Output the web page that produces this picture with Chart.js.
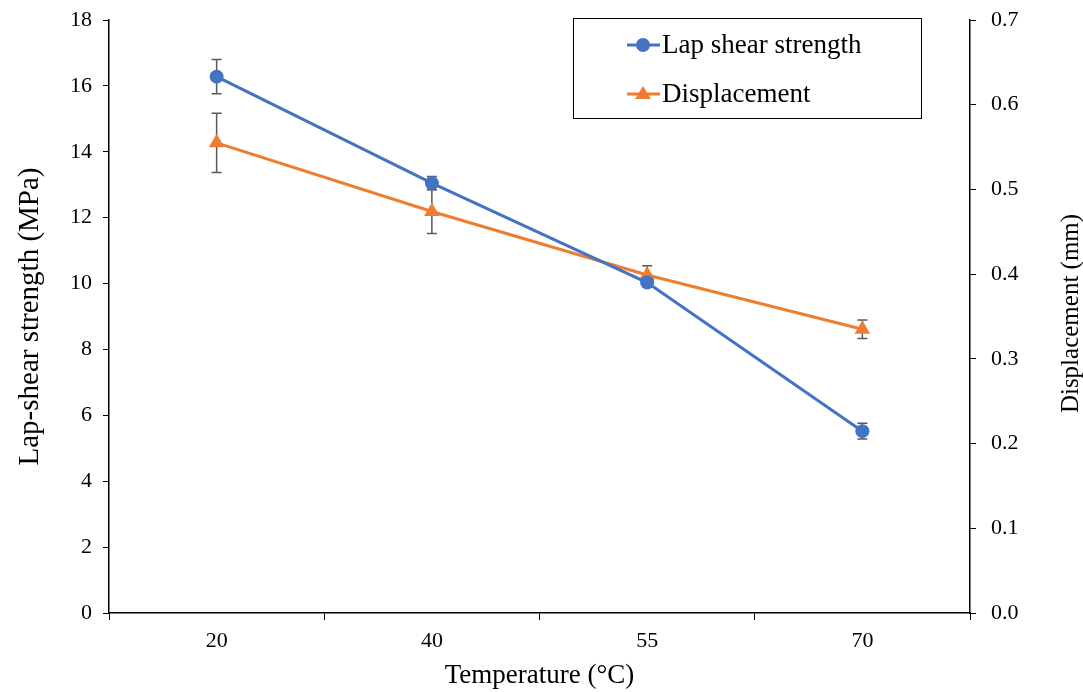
<!DOCTYPE html>
<html>
<head>
<meta charset="utf-8">
<script src="https://cdn.jsdelivr.net/npm/chart.js@4.4.0/dist/chart.umd.min.js"></script>
<style>
  html, body { margin: 0; padding: 0; background: #ffffff; }
  #wrap { width: 1083px; height: 692px; }
</style>
</head>
<body>
<div id="wrap"><canvas id="grafico"></canvas></div>
<script>
// dados
const temperaturas = ['20', '40', '55', '70'];
const resistencia = [16.28, 13.05, 10.03, 5.52];
const erroResistencia = [0.52, 0.2, 0.1, 0.24];
const deslocamento = [0.555, 0.474, 0.399, 0.335];
const erroDeslocamento = [0.035, 0.026, 0.011, 0.011];
const ticksDireita = [0, 0.1, 0.2, 0.3, 0.4, 0.5, 0.6, 0.7];
const tituloDireita = 'Displacement (mm)';

const AZUL = '#4472C4';
const LARANJA = '#ED7D31';
const FONTE = "'Liberation Serif', 'Times New Roman', serif";

// barras de erro desenhadas com as escalas do próprio Chart.js
const barrasErro = {
  id: 'barrasErro',
  beforeDatasetsDraw(chart) {
    const ctx = chart.ctx;
    const x = chart.scales.x;
    ctx.save();
    ctx.strokeStyle = '#595959';
    ctx.lineWidth = 1.5;
    chart.data.datasets.forEach(ds => {
      const y = chart.scales[ds.yAxisID];
      ds.data.forEach((v, i) => {
        const px = x.getPixelForValue(i);
        const top = y.getPixelForValue(v + ds.erros[i]);
        const bot = y.getPixelForValue(v - ds.erros[i]);
        ctx.beginPath();
        ctx.moveTo(px, top); ctx.lineTo(px, bot);
        ctx.moveTo(px - 5, top); ctx.lineTo(px + 5, top);
        ctx.moveTo(px - 5, bot); ctx.lineTo(px + 5, bot);
        ctx.stroke();
      });
    });
    ctx.restore();
  }
};

// legenda em caixa + título do eixo direito (lido de baixo para cima)
const extras = {
  id: 'extras',
  afterDraw(chart) {
    const ctx = chart.ctx;
    ctx.save();
    ctx.fillStyle = '#ffffff';
    ctx.fillRect(573, 18, 348, 100);
    ctx.strokeStyle = '#000000';
    ctx.lineWidth = 1;
    ctx.strokeRect(573.5, 18.5, 348, 100);
    ctx.font = '27px ' + FONTE;
    ctx.textBaseline = 'middle';
    chart.data.datasets.forEach((ds, i) => {
      const y = 45 + i * 49;
      ctx.strokeStyle = ds.borderColor;
      ctx.lineWidth = 3;
      ctx.beginPath();
      ctx.moveTo(627, y); ctx.lineTo(660, y);
      ctx.stroke();
      ctx.fillStyle = ds.borderColor;
      ctx.beginPath();
      if (ds.pointStyle === 'triangle') {
        ctx.moveTo(643, y - 8); ctx.lineTo(651, y + 5); ctx.lineTo(635, y + 5);
      } else {
        ctx.arc(643, y, 7, 0, Math.PI * 2);
      }
      ctx.closePath();
      ctx.fill();
      ctx.fillStyle = '#000000';
      ctx.fillText(ds.label, 662, y + 1);
    });

    const a = chart.chartArea;
    ctx.translate(1071, (a.top + a.bottom) / 2 - 3);
    ctx.rotate(-Math.PI / 2);
    ctx.font = '25px ' + FONTE;
    ctx.textAlign = 'center';
    ctx.fillText(tituloDireita, 0, 0);
    ctx.restore();
  }
};

new Chart(document.getElementById('grafico'), {
  type: 'line',
  data: {
    labels: temperaturas,
    datasets: [{
      label: 'Lap shear strength',
      data: resistencia,
      erros: erroResistencia,
      yAxisID: 'y',
      borderColor: AZUL,
      backgroundColor: AZUL,
      borderWidth: 3,
      pointStyle: 'circle',
      pointRadius: 7,
      pointBorderWidth: 0,
      tension: 0
    }, {
      label: 'Displacement',
      data: deslocamento,
      erros: erroDeslocamento,
      yAxisID: 'y1',
      borderColor: LARANJA,
      backgroundColor: LARANJA,
      borderWidth: 3,
      pointStyle: 'triangle',
      pointRadius: 9,
      pointBorderWidth: 0,
      tension: 0
    }]
  },
  options: {
    responsive: true,
    maintainAspectRatio: false,
    animation: false,
    layout: { padding: { top: 20, left: 0, right: 0, bottom: 0 } },
    plugins: {
      legend: { display: false },
      tooltip: { enabled: false }
    },
    scales: {
      x: {
        offset: true,
        grid: { offset: true, drawOnChartArea: false, color: '#000', tickLength: 7, tickWidth: 1 },
        border: { color: '#000', width: 1.5 },
        ticks: { color: '#000', font: { family: FONTE, size: 22 }, padding: 8 },
        title: { display: true, text: 'Temperature (°C)', color: '#000', font: { family: FONTE, size: 27 }, padding: { top: 0, bottom: 0 } },
        afterFit(s) { s.height = 79; }
      },
      y: {
        position: 'left',
        min: 0, max: 18,
        ticks: { stepSize: 2, color: '#000', font: { family: FONTE, size: 22 }, padding: 11 },
        grid: { drawOnChartArea: false, color: '#000', tickLength: 6 },
        border: { color: '#000', width: 1.5 },
        title: { display: true, text: 'Lap-shear strength (MPa)', color: '#000', font: { family: FONTE, size: 29 }, padding: { top: 13, bottom: 0 } },
        afterFit(s) { s.width = 109; s.paddingTop = 10; s.paddingBottom = 10; }
      },
      y1: {
        position: 'right',
        min: 0, max: 0.7,
        afterBuildTicks(s) { s.ticks = ticksDireita.map(v => ({ value: v })); },
        ticks: {
          color: '#000', font: { family: FONTE, size: 22 }, padding: 15,
          callback: v => v.toFixed(1)
        },
        grid: { drawOnChartArea: false, color: '#000', tickLength: 6 },
        border: { color: '#000', width: 1.5 },
        afterFit(s) { s.width = 113; s.paddingTop = 10; s.paddingBottom = 10; }
      }
    }
  },
  plugins: [barrasErro, extras]
});
</script>
</body>
</html>
